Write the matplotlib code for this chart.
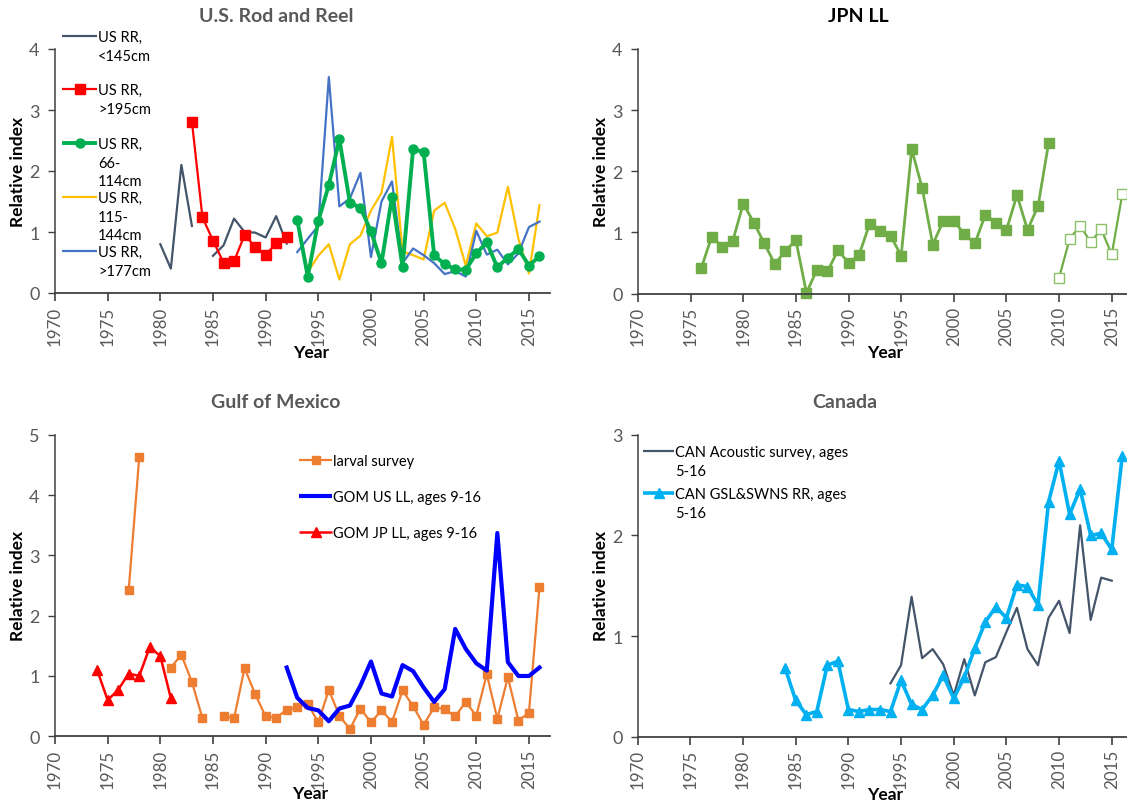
import numpy as np
import matplotlib
matplotlib.use("Agg")
import matplotlib.pyplot as plt
from matplotlib.lines import Line2D

plt.rcParams['font.family'] = ['Lato', 'DejaVu Sans']

nan = np.nan
# ---------------- Data ----------------
# U.S. Rod and Reel
rr_years = list(range(1980, 2017))
rr_lt145 = [0.80, 0.40, 2.10, 1.10, nan, 0.61, 0.78, 1.22, 1.00, 0.99, 0.91, 1.26, 0.81] + [nan] * 24
rr_gt195 = [nan, nan, nan, 2.81, 1.24, 0.86, 0.50, 0.52, 0.95, 0.76, 0.62, 0.82, 0.91] + [nan] * 24
rr_66_114 = [nan] * 13 + [1.20, 0.27, 1.18, 1.77, 2.52, 1.48, 1.40, 1.01, 0.49, 1.58, 0.43, 2.36,
                          2.31, 0.62, 0.47, 0.39, 0.38, 0.65, 0.83, 0.42, 0.58, 0.72, 0.45, 0.60]
rr_115_144 = [nan] * 13 + [1.22, 0.34, 0.61, 0.80, 0.22, 0.80, 0.94, 1.35, 1.64, 2.56, 0.68, 0.62,
                           0.55, 1.35, 1.48, 1.05, 0.45, 1.14, 0.93, 0.99, 1.74, 0.89, 0.32, 1.44]
rr_gt177 = [nan] * 13 + [0.67, 0.89, 1.10, 3.54, 1.42, 1.55, 1.97, 0.59, 1.50, 1.83, 0.49, 0.73,
                         0.62, 0.49, 0.31, 0.36, 0.27, 1.02, 0.63, 0.71, 0.47, 0.65, 1.08, 1.17]

# JPN LL
jpn_years = list(range(1976, 2017))
jpn_early = [0.41, 0.93, 0.76, 0.86, 1.47, 1.16, 0.82, 0.48, 0.70, 0.87, 0.01, 0.39, 0.36, 0.71,
             0.50, 0.63, 1.14, 1.03, 0.94, 0.62, 2.36, 1.72, 0.80, 1.19, 1.19, 0.97, 0.82, 1.29,
             1.16, 1.04, 1.61, 1.04, 1.43, 2.46] + [nan] * 7
jpn_late = [nan] * 34 + [0.26, 0.89, 1.11, 0.84, 1.05, 0.64, 1.62]

# Gulf of Mexico
gom_years = list(range(1974, 2017))
larval = [nan, nan, nan, 2.43, 4.63, nan, nan, 1.14, 1.35, 0.90, 0.30, nan, 0.34, 0.30, 1.13, 0.70,
          0.33, 0.31, 0.44, 0.48, 0.54, 0.23, 0.77, 0.34, 0.12, 0.46, 0.23, 0.43, 0.24, 0.76,
          0.50, 0.19, 0.48, 0.45, 0.33, 0.57, 0.34, 1.03, 0.29, 0.98, 0.26, 0.39, 2.47]
gom_us_ll = [nan] * 18 + [1.14, 0.64, 0.47, 0.43, 0.25, 0.46, 0.51, 0.84, 1.24, 0.71, 0.66, 1.18,
                          1.08, 0.81, 0.57, 0.78, 1.78, 1.45, 1.21, 1.09, 3.37, 1.23, 1.00, 1.00, 1.14]
gom_jp_ll = [1.10, 0.60, 0.77, 1.04, 1.00, 1.48, 1.33, 0.63] + [nan] * 35

# Canada
can_years = list(range(1984, 2017))
can_acoustic = [nan] * 10 + [0.53, 0.71, 1.39, 0.78, 0.87, 0.72, 0.41, 0.77, 0.41, 0.74, 0.79,
                             1.04, 1.28, 0.87, 0.71, 1.18, 1.35, 1.03, 2.10, 1.16, 1.58, 1.55, nan]
can_rr = [0.68, 0.36, 0.22, 0.25, 0.71, 0.75, 0.27, 0.25, 0.27, 0.27, 0.25, 0.56, 0.32, 0.27,
          0.41, 0.61, 0.38, 0.59, 0.88, 1.14, 1.29, 1.18, 1.51, 1.49, 1.31, 2.33, 2.74, 2.21,
          2.46, 2.00, 2.02, 1.86, 2.79]

xticks = list(range(1970, 2016, 5))

# ---------------- Figure ----------------
W, H = 1127, 803
fig = plt.figure(figsize=(W / 100, H / 100), dpi=100)

GRAY = '#595959'


def make_axes(x0, x1, ybot, ytop, ymax, xmax):
    ax = fig.add_axes([x0 / W, 1 - ybot / H, (x1 - x0) / W, (ybot - ytop) / H])
    ax.set_xlim(1970, xmax)
    ax.set_ylim(0, ymax)
    ax.set_xticks(xticks)
    ax.set_yticks(range(0, ymax + 1))
    ax.set_xticklabels([str(t) for t in xticks], rotation=90, fontsize=12.2, color=GRAY)
    for lab in ax.get_yticklabels():
        lab.set_fontsize(13)
        lab.set_color(GRAY)
    ax.spines['top'].set_visible(False)
    ax.spines['right'].set_visible(False)
    ax.spines['left'].set_color('#404040')
    ax.spines['bottom'].set_color('#404040')
    ax.spines['left'].set_linewidth(1.1)
    ax.spines['bottom'].set_linewidth(1.3)
    ax.tick_params(axis='x', direction='out', length=6, width=1.2, color='#404040', pad=3)
    ax.tick_params(axis='y', direction='out', length=5, width=1.0, color='#404040', pad=6)
    ax.patch.set_alpha(0)
    return ax


def ftext(x, y, s, **kw):
    fig.text(x / W, 1 - y / H, s, **kw)


def legend_entry(x0, x1, y, lines, color, lw, marker=None, ms=6, mfc=None, tx=None, lh=18.7, fs=10.5):
    fig.add_artist(Line2D([x0 / W, x1 / W], [1 - y / H] * 2, transform=fig.transFigure,
                          color=color, lw=lw, solid_capstyle='butt'))
    if marker:
        fig.add_artist(Line2D([(x0 + x1) / 2 / W], [1 - y / H], transform=fig.transFigure,
                              color=color, marker=marker, ms=ms, mfc=mfc or color, mec=color, lw=0))
    tx = tx if tx is not None else x1 + 1
    for i, ln in enumerate(lines):
        ftext(tx, y + 5 + i * lh, ln, fontsize=fs, color='black', ha='left', va='baseline')


# ---- Top-left: U.S. Rod and Reel ----
ax1 = make_axes(55, 550, 294, 50, 4, 2017.0)
ax1.plot(rr_years, rr_lt145, color='#44546A', lw=1.6)
ax1.plot(rr_years, rr_gt195, color='#FF0000', lw=1.6, marker='s', ms=7.5)
ax1.plot(rr_years, rr_115_144, color='#FFC000', lw=1.6)
ax1.plot(rr_years, rr_gt177, color='#4472C4', lw=1.6)
ax1.plot(rr_years, rr_66_114, color='#00B050', lw=2.8, marker='o', ms=6.5)
ftext(276, 17, 'U.S. Rod and Reel', fontsize=14, fontweight='bold', color=GRAY, ha='center', va='center')
ftext(18, 172, 'Relative index', fontsize=12.5, fontweight='bold', rotation=90, ha='center', va='center')
ftext(311, 353, 'Year', fontsize=12.5, fontweight='bold', ha='center', va='center')
legend_entry(62, 97, 37, ['US RR,', '<145cm'], '#44546A', 1.6)
legend_entry(62, 97, 90, ['US RR,', '>195cm'], '#FF0000', 1.6, marker='s', ms=7.5)
legend_entry(62, 97, 144, ['US RR,', '66-', '114cm'], '#00B050', 2.8, marker='o', ms=6.5)
legend_entry(62, 97, 198, ['US RR,', '115-', '144cm'], '#FFC000', 1.6)
legend_entry(62, 97, 252, ['US RR,', '>177cm'], '#4472C4', 1.6)

# ---- Top-right: JPN LL ----
ax2 = make_axes(638, 1127, 294.5, 50, 4, 2016.45)
ax2.plot(jpn_years, jpn_early, color='#70AD47', lw=2.0, marker='s', ms=6.8, clip_on=False)
ax2.plot(jpn_years, jpn_late, color='#70AD47', lw=1.6, marker='s', ms=6.5, mfc='white',
         mec='#8CC168', mew=1.0, clip_on=False)
ftext(858, 17, 'JPN LL', fontsize=14, fontweight='bold', color='black', ha='center', va='center')
ftext(601, 172, 'Relative index', fontsize=12.5, fontweight='bold', rotation=90, ha='center', va='center')
ftext(885, 353, 'Year', fontsize=12.5, fontweight='bold', ha='center', va='center')

# ---- Bottom-left: Gulf of Mexico ----
ax3 = make_axes(55, 550, 737.3, 435.7, 5, 2017.0)
ax3.plot(gom_years, gom_jp_ll, color='#FF0000', lw=1.8, marker='^', ms=7)
ax3.plot(gom_years, larval, color='#ED7D31', lw=1.6, marker='s', ms=6.3)
ax3.plot(gom_years, gom_us_ll, color='#0000FF', lw=3.0)
ftext(276, 403, 'Gulf of Mexico', fontsize=14, fontweight='bold', color=GRAY, ha='center', va='center')
ftext(18, 586, 'Relative index', fontsize=12.5, fontweight='bold', rotation=90, ha='center', va='center')
ftext(310, 794, 'Year', fontsize=12.5, fontweight='bold', ha='center', va='center')
legend_entry(299, 332, 460.7, ['larval survey'], '#ED7D31', 1.6, marker='s', ms=6.3)
legend_entry(299, 332, 496.7, ['GOM US LL, ages 9-16'], '#0000FF', 3.0)
legend_entry(299, 332, 533.3, ['GOM JP LL, ages 9-16'], '#FF0000', 1.8, marker='^', ms=7)

# ---- Bottom-right: Canada ----
ax4 = make_axes(637.7, 1127, 737.7, 435.7, 3, 2016.45)
ax4.plot(can_years, can_acoustic, color='#44546A', lw=1.6)
ax4.plot(can_years, can_rr, color='#00B0F0', lw=2.6, marker='^', ms=7, clip_on=False)
ftext(845, 403, 'Canada', fontsize=14, fontweight='bold', color=GRAY, ha='center', va='center')
ftext(601, 586, 'Relative index', fontsize=12.5, fontweight='bold', rotation=90, ha='center', va='center')
ftext(885, 795, 'Year', fontsize=12.5, fontweight='bold', ha='center', va='center')
legend_entry(643, 674, 452.3, ['CAN Acoustic survey, ages', '5-16'], '#44546A', 1.6)
legend_entry(643, 674, 494, ['CAN GSL&SWNS RR, ages', '5-16'], '#00B0F0', 2.6, marker='^', ms=7)

fig.savefig('out.png', dpi=100)
